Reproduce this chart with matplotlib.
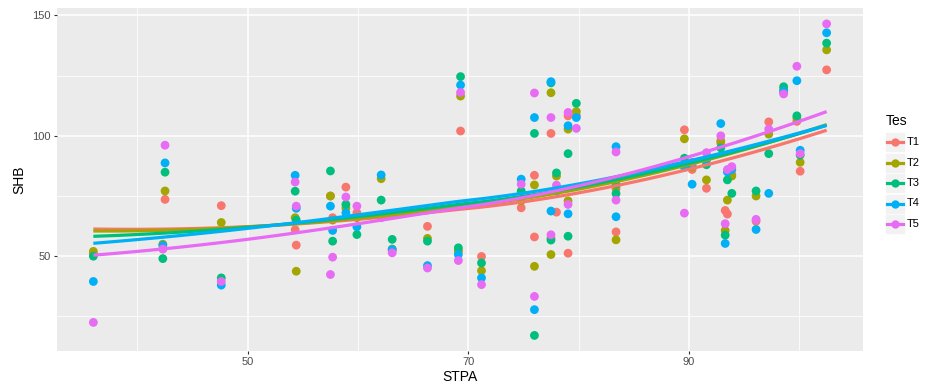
import numpy as np
import matplotlib
matplotlib.use("Agg")
import matplotlib.pyplot as plt
from matplotlib.lines import Line2D
from matplotlib.patches import Rectangle

plt.rcParams['font.family'] = ['Liberation Sans', 'DejaVu Sans']

# STPA value of each row, and SHB for each treatment
stpa = [36.0, 42.5, 42.3, 47.6, 54.3, 54.4, 57.5, 57.7, 58.9, 59.9,
        62.1, 63.1, 66.3, 69.3, 69.1, 71.2, 74.8, 76.0, 76.0, 77.5,
        77.5, 78.0, 79.05, 79.05, 79.8, 83.4, 83.4, 89.6, 90.3, 91.6,
        92.9, 93.3, 93.5, 93.9, 96.1, 97.25, 98.6, 99.8, 100.1, 102.5]
t1 = [51, 73.6, 53, 71, 61, 54.6, 75, 66, 78.7, 68,
      67, 52.5, 62.4, 102, 52.5, 49.9, 70.1, 83.6, 58, 101,
      57.5, 68.3, 108.3, 51.25, 108.5, 78, 60.1, 102.5, 86, 78.2,
      97, 69, 67.5, 84, 64.5, 105.8, 118, 106, 85.3, 127.4]
t2 = [52, 77.1, 55, 64, 66, 43.75, 75, 65, 70, 66,
      82.2, 53, 57.4, 116.5, 52, 44, 73, 79.6, 45.8, 117.9,
      50.7, 83.3, 102.8, 73, 110.1, 79, 56.8, 98.75, 87, 81.7,
      97.9, 60.7, 73.3, 83.3, 75, 100.7, 119.4, 107.4, 89, 135.7]
t3 = [50, 84.9, 49, 41, 77, 65, 85.4, 56.25, 71.5, 59,
      73.3, 57, 56.25, 124.6, 53.5, 47.2, 77.1, 101, 17.1, 122,
      56.7, 84.6, 92.6, 58.3, 113.5, 80, 76, 90.7, 88, 88,
      95, 58.75, 81.7, 76.1, 77.1, 92.6, 120.4, 108.3, 92, 138.5]
t4 = [39.5, 88.75, 54.5, 38, 83.6, 69.9, 70.8, 60.7, 68, 62.2,
      83.75, 52.8, 46.1, 121.1, 50.7, 41, 82, 107.6, 27.8, 122.5,
      68.75, 77, 104.2, 67.6, 107.6, 95.5, 66.4, 87, 79.9, 90,
      105.1, 55.3, 85, 86, 61.1, 76.1, 118.5, 122.9, 94, 142.8]
t5 = [22.5, 96.1, 53, 39.5, 80.8, 70.8, 42.4, 49.6, 74.6, 70.8,
      66, 51.4, 45.1, 118, 48.2, 38.2, 79.9, 117.8, 33.3, 107.6,
      58.9, 79.5, 109.7, 71.5, 103.1, 93.3, 73.3, 67.9, 89, 93,
      100, 63.5, 86, 87.2, 65.3, 102.8, 117.4, 128.9, 92.6, 146.5]

groups = ['T1', 'T2', 'T3', 'T4', 'T5']
series = [t1, t2, t3, t4, t5]
colors = ['#F8766D', '#A3A500', '#00BF7D', '#00B0F6', '#E76BF3']


def loess(x, y, xs, span=1.6):
    # local quadratic fit with tricube weights (span > 1 widens the window, as in R)
    x = np.asarray(x, float)
    y = np.asarray(y, float)
    q = min(int(np.floor(len(x) * span)), len(x))
    out = []
    for x0 in xs:
        d = np.abs(x - x0)
        h = np.sort(d)[q - 1] * max(span, 1.0)
        w = np.clip(1 - (d / h) ** 3, 0, None) ** 3
        X = np.vstack([np.ones_like(x), x - x0, (x - x0) ** 2]).T
        W = np.sqrt(w)
        beta = np.linalg.lstsq(X * W[:, None], y * W, rcond=None)[0]
        out.append(beta[0])
    return np.array(out)


fig = plt.figure(figsize=(9.25, 3.89), dpi=100)
ax = fig.add_axes([56.7 / 925, 38 / 389, (863.3 - 56.7) / 925, (351 - 8.3) / 389])
ax.set_facecolor('#EBEBEB')

x = np.array(stpa)
for g, s, c in zip(groups, series, colors):
    ax.scatter(x, s, s=40, color=c, edgecolors='none', zorder=3)

xs = np.linspace(x.min(), x.max(), 80)
for g, s, c in zip(groups, series, colors):
    ax.plot(xs, loess(x, s, xs), color=c, lw=2.3, zorder=4, solid_capstyle='butt')

allv = np.concatenate(series)
xr = x.max() - x.min()
yr = allv.max() - allv.min()
ax.set_xlim(x.min() - 0.05 * xr, x.max() + 0.05 * xr)
ax.set_ylim(allv.min() - 0.05 * yr, allv.max() + 0.05 * yr)

ax.set_xticks([50, 70, 90])
ax.set_xticks([40, 60, 80, 100], minor=True)
ax.set_yticks([50, 100, 150])
ax.set_yticks([25, 75, 125], minor=True)
ax.grid(which='major', color='white', lw=1.1)
ax.grid(which='minor', color='white', lw=0.55)
ax.set_axisbelow(True)
for sp in ax.spines.values():
    sp.set_visible(False)
ax.tick_params(which='major', length=2.5, width=0.8, color='#333333',
               labelsize=8, labelcolor='#4D4D4D', pad=2)
ax.tick_params(which='minor', length=0)
ax.set_xlabel('STPA', fontsize=10, labelpad=2)
ax.set_ylabel('SHB', fontsize=10, labelpad=4)

# legend drawn by hand in pixel positions
def fx(px):
    return px / 925

def fy(py):
    return 1 - py / 389

fig.text(fx(886), fy(121), 'Tes', fontsize=10, va='center', ha='left')
for i, (g, c) in enumerate(zip(groups, colors)):
    cy = 142 + i * 20.5
    fig.patches.append(Rectangle((fx(886), fy(cy + 9)), 18 / 925, 18 / 389,
                                 transform=fig.transFigure, color='#F2F2F2', zorder=1))
    fig.lines.append(Line2D([fx(887), fx(903)], [fy(cy), fy(cy)], transform=fig.transFigure,
                            color=c, lw=2.3, zorder=2))
    fig.lines.append(Line2D([fx(895)], [fy(cy)], transform=fig.transFigure, color=c,
                            marker='o', markersize=6, markeredgewidth=0, zorder=3))
    fig.text(fx(907), fy(cy), g, fontsize=8, va='center', ha='left', color='black')

fig.savefig('out.png', dpi=100)
